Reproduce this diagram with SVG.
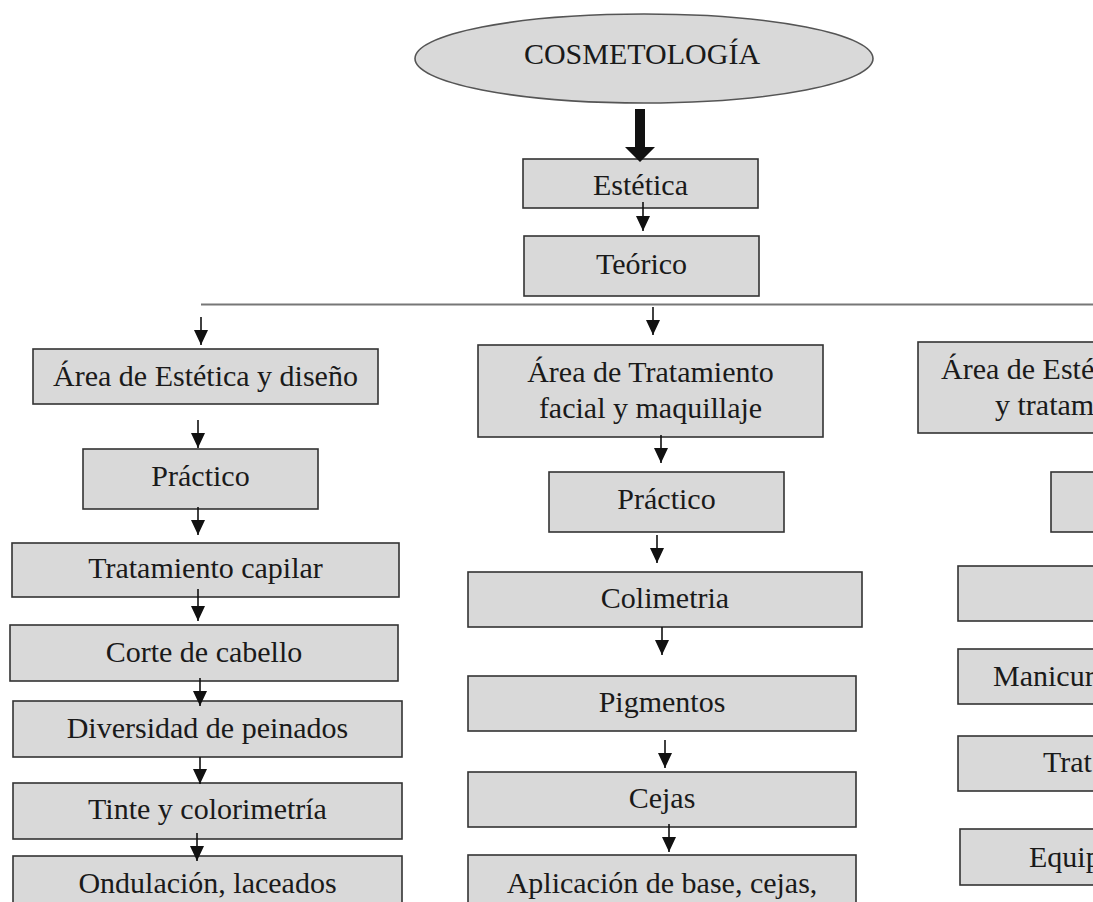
<svg xmlns="http://www.w3.org/2000/svg" width="1093" height="902" viewBox="0 0 1093 902">
<style>
.box{fill:#d9d9d9;stroke:#333;stroke-width:1.6}
.t{font-family:"Liberation Serif","Times New Roman",serif;font-size:30px;fill:#1a1a1a;text-anchor:middle}
.ts{font-family:"Liberation Serif","Times New Roman",serif;font-size:30px;fill:#1a1a1a;text-anchor:start}
.arr{stroke:#111;stroke-width:1.6;fill:none;marker-end:url(#ah)}
</style>
<defs>
<marker id="ah" markerUnits="userSpaceOnUse" markerWidth="15" markerHeight="14" refX="15" refY="7" orient="auto">
<path d="M0,0 L15,7 L0,14 z" fill="#111"/>
</marker>
</defs>
<rect width="1093" height="902" fill="#fff"/>

<g id="cosmetologia">
<ellipse cx="644" cy="58.5" rx="229" ry="44.5" fill="#d9d9d9" stroke="#555" stroke-width="1.6"/>
<text class="t" x="642" y="64">COSMETOLOGÍA</text>
</g>
<g id="estetica">
<rect class="box" x="523" y="159" width="235" height="49"/>
<text class="t" x="640.5" y="195">Estética</text>
</g>
<g id="teorico">
<rect class="box" x="524" y="236" width="235" height="60"/>
<text class="t" x="641.5" y="274">Teórico</text>
</g>

<g id="area-estetica-diseno">
<rect class="box" x="33" y="349" width="345" height="55"/>
<text class="t" x="205.5" y="386">Área de Estética y diseño</text>
</g>
<g id="practico-1">
<rect class="box" x="83" y="449" width="235" height="60"/>
<text class="t" x="200.5" y="486">Práctico</text>
</g>
<g id="tratamiento-capilar">
<rect class="box" x="12" y="543" width="387" height="54"/>
<text class="t" x="205.5" y="578">Tratamiento capilar</text>
</g>
<g id="corte-cabello">
<rect class="box" x="10" y="625" width="388" height="56"/>
<text class="t" x="204" y="662">Corte de cabello</text>
</g>
<g id="diversidad-peinados">
<rect class="box" x="13" y="701" width="389" height="56"/>
<text class="t" x="207.5" y="738">Diversidad de peinados</text>
</g>
<g id="tinte-colorimetria">
<rect class="box" x="13" y="783" width="389" height="56"/>
<text class="t" x="207.5" y="819">Tinte y colorimetría</text>
</g>
<g id="ondulacion-laceados">
<rect class="box" x="13" y="856" width="389" height="60"/>
<text class="t" x="207.5" y="893">Ondulación, laceados</text>
</g>

<g id="area-tratamiento-facial">
<rect class="box" x="478" y="345" width="345" height="92"/>
<text class="t" x="650.5" y="382">Área de Tratamiento</text>
<text class="t" x="650.5" y="418">facial y maquillaje</text>
</g>
<g id="practico-2">
<rect class="box" x="549" y="472" width="235" height="60"/>
<text class="t" x="666.5" y="509">Práctico</text>
</g>
<g id="colimetria">
<rect class="box" x="468" y="572" width="394" height="55"/>
<text class="t" x="665" y="608">Colimetria</text>
</g>
<g id="pigmentos">
<rect class="box" x="468" y="676" width="388" height="55"/>
<text class="t" x="662" y="712">Pigmentos</text>
</g>
<g id="cejas">
<rect class="box" x="468" y="772" width="388" height="55"/>
<text class="t" x="662" y="808">Cejas</text>
</g>
<g id="aplicacion-base">
<rect class="box" x="468" y="855" width="388" height="60"/>
<text class="t" x="662" y="893">Aplicación de base, cejas,</text>
</g>

<g id="area-estetica-tratamiento">
<rect class="box" x="918" y="342" width="190" height="91"/>
<text class="ts" x="941" y="379">Área de Esté</text>
<text class="ts" x="995" y="415">y tratam</text>
</g>
<g id="practico-3">
<rect class="box" x="1051" y="472" width="60" height="60"/>
</g>
<g id="nodo-derecha-vacio">
<rect class="box" x="958" y="566" width="150" height="55"/>
</g>
<g id="manicura">
<rect class="box" x="958" y="649" width="150" height="55"/>
<text class="ts" x="993" y="686">Manicur</text>
</g>
<g id="tratamiento-3">
<rect class="box" x="958" y="736" width="150" height="55"/>
<text class="ts" x="1043" y="772">Trat</text>
</g>
<g id="equipos">
<rect class="box" x="960" y="829" width="150" height="56"/>
<text class="ts" x="1029" y="867">Equip</text>
</g>

<g id="connectors">
<path d="M635,109 H645 V147 H655 L640,162 L625,147 H635 Z" fill="#111"/>
<line x1="201" y1="304.5" x2="1093" y2="304.5" stroke="#777" stroke-width="2"/>
<line class="arr" x1="643" y1="202" x2="643" y2="231"/>
<line class="arr" x1="201" y1="317" x2="201" y2="345"/>
<line class="arr" x1="653" y1="307" x2="653" y2="335"/>
<line class="arr" x1="198" y1="420" x2="198" y2="448"/>
<line class="arr" x1="198" y1="507" x2="198" y2="535"/>
<line class="arr" x1="198" y1="589" x2="198" y2="621"/>
<line class="arr" x1="200" y1="678" x2="200" y2="706"/>
<line class="arr" x1="200" y1="757" x2="200" y2="784"/>
<line class="arr" x1="197" y1="833" x2="197" y2="861"/>
<line class="arr" x1="661" y1="435" x2="661" y2="463"/>
<line class="arr" x1="657" y1="535" x2="657" y2="563"/>
<line class="arr" x1="662" y1="627" x2="662" y2="655"/>
<line class="arr" x1="665" y1="740" x2="665" y2="768"/>
<line class="arr" x1="669" y1="824" x2="669" y2="852"/>
</g>
</svg>
